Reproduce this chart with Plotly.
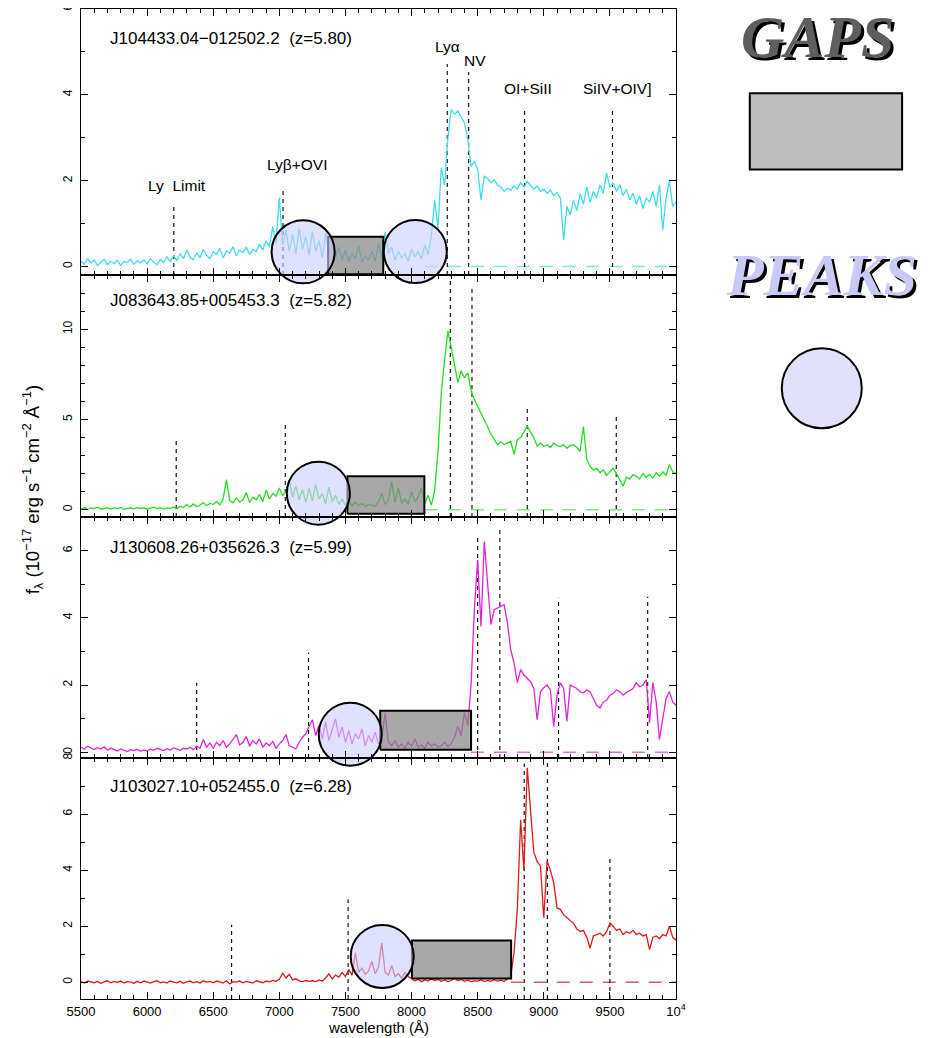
import plotly.graph_objects as go

# ---------------- data ----------------
wavelength = list(range(5500, 10001, 25))  # sampling grid (Angstrom)

flux_j1044 = [
    0.12, 0.05, 0.18, 0.08, 0.15, 0.02, 0.10, 0.16, 0.04, 0.12,
    0.07, 0.14, 0.03, 0.11, 0.09, 0.17, 0.05, 0.13, 0.08, 0.15,
    0.06, 0.18, 0.10, 0.04, 0.16, 0.09, 0.22, 0.12, 0.25, 0.14,
    0.30, 0.18, 0.38, 0.22, 0.15, 0.32, 0.20, 0.40, 0.26, 0.18,
    0.34, 0.28, 0.42, 0.20, 0.36, 0.30, 0.46, 0.25, 0.38, 0.32,
    0.45, 0.28, 0.40, 0.35, 0.52, 0.38, 0.60, 0.45, 0.92, 0.55,
    1.60, 0.50, 0.85, 0.35, 0.75, 0.30, 0.88, 0.40, 0.70, 0.25,
    0.82, 0.35, 0.60, 0.20, 0.78, 0.30, 0.55, 0.22, 0.45, 0.15,
    0.38, 0.12, 0.30, 0.18, 0.48, 0.10, 0.25, 0.15, 0.35, 0.12,
    0.55, 0.20, 0.80, 0.30, 0.45, 0.15, 0.35, 0.20, 0.30, 0.12,
    0.40, 0.22, 0.35, 0.18, 0.50, 0.28, 0.72, 1.55, 0.90, 2.30,
    1.90, 3.00, 3.66, 3.55, 3.62, 3.50, 3.35, 2.96, 2.33, 2.45,
    2.26, 1.55, 2.10, 2.05, 1.95, 2.02, 1.90, 1.85, 1.75, 1.82,
    1.78, 1.88, 1.80, 1.95, 1.85, 1.98, 1.90, 1.80, 1.88, 1.75,
    1.80, 1.70, 1.78, 1.65, 1.72, 1.60, 0.62, 1.40, 1.20, 1.55,
    1.30, 1.70, 1.45, 1.85, 1.50, 1.75, 1.60, 1.90, 1.70, 2.18,
    1.85, 1.95, 1.75, 1.90, 1.65, 1.80, 1.55, 1.70, 1.45, 1.65,
    1.35, 1.60, 1.50, 1.75, 1.40, 1.90, 0.85, 1.60, 2.00, 1.40,
    1.50,
]

flux_j0836 = [
    0.05, 0.12, 0.02, 0.10, 0.06, 0.14, 0.03, 0.09, 0.12, 0.04,
    0.10, 0.06, 0.13, 0.02, 0.08, 0.11, 0.05, 0.12, 0.07, 0.10,
    0.03, 0.09, 0.14, 0.06, 0.11, 0.04, 0.10, 0.08, 0.15, 0.06,
    0.20, 0.12, 0.28, 0.15, 0.32, 0.18, 0.25, 0.40, 0.22, 0.35,
    0.30, 0.45, 0.28, 0.60, 1.67, 0.50, 0.38, 0.65, 0.42, 0.55,
    0.95, 0.40, 0.70, 0.55, 0.85, 0.45, 1.10, 0.60, 0.90, 0.75,
    1.20, 0.80, 1.00, 1.67, 0.70, 1.30, 0.55, 1.10, 0.40, 1.20,
    0.50, 1.40, 0.60, 0.90, 0.35, 1.25, 0.45, 0.80, 0.30, 0.60,
    0.25, 0.50, 0.20, 0.40, 0.22, 0.35, 0.18, 0.30, 0.25, 0.20,
    0.45, 0.90, 0.30, 0.55, 1.57, 0.40, 1.20, 0.35, 0.60, 0.30,
    1.00, 0.45, 0.70, 1.20, 0.35, 0.80, 0.25, 1.10, 3.20, 6.50,
    8.30, 9.90, 9.00, 8.00, 7.05, 7.70, 7.30, 7.60, 6.60, 6.10,
    5.74, 5.40, 5.00, 4.60, 4.20, 3.90, 3.60, 3.75, 3.60, 3.70,
    3.80, 3.05, 3.90, 4.00, 4.30, 4.63, 4.30, 4.00, 3.52, 3.70,
    3.50, 3.60, 3.45, 3.70, 3.55, 3.50, 3.60, 3.40, 3.55, 3.60,
    3.45, 3.24, 4.60, 2.80, 2.40, 2.20, 2.30, 2.05, 2.20, 1.90,
    2.10, 2.30, 2.00, 1.60, 1.30, 1.80, 1.70, 1.95, 1.85, 1.70,
    2.00, 1.80, 1.95, 1.75, 2.05, 1.85, 2.10, 1.90, 2.50, 2.10,
    2.00,
]

flux_j1306 = [
    0.15, 0.10, 0.18, 0.12, 0.08, 0.14, 0.10, 0.16, 0.06, 0.12,
    0.08, 0.04, 0.10, 0.06, 0.02, 0.08, 0.05, 0.09, 0.03, 0.07,
    0.04, 0.10, 0.06, 0.12, 0.08, 0.05, 0.11, 0.07, 0.13, 0.09,
    0.06, 0.12, 0.10, 0.15, 0.08, 0.18, 0.12, 0.38, 0.15, 0.28,
    0.12, 0.30, 0.20, 0.35, 0.15, 0.25, 0.40, 0.53, 0.22, 0.30,
    0.47, 0.18, 0.35, 0.25, 0.40, 0.15, 0.28, 0.20, 0.32, 0.12,
    0.25, 0.35, 0.53, 0.20, 0.15, 0.10, 0.30, 0.45, 0.55, 0.77,
    0.97, 0.50, 0.80, 0.40, 0.90, 0.35, 0.70, 1.00, 0.45, 0.75,
    0.30, 0.65, 0.25, 0.55, 0.40, 0.70, 0.20, 0.50, 0.30, 0.60,
    0.25, 0.45, 1.18, 0.30, 0.20, 0.35, 0.15, 0.25, 0.12, 0.30,
    0.18, 0.40, 0.15, 0.22, 0.12, 0.30, 0.18, 0.25, 0.15, 0.20,
    0.30, 0.18, 0.25, 0.45, 0.77, 0.50, 1.18, 0.80, 2.00, 4.24,
    5.73, 3.74, 6.27, 5.00, 3.80, 4.24, 4.30, 4.34, 4.39, 3.85,
    3.05, 2.66, 2.07, 2.46, 2.30, 2.20, 2.10, 1.90, 0.97, 1.80,
    1.92, 2.00, 1.85, 0.77, 1.70, 2.07, 1.90, 0.92, 2.00, 1.95,
    1.90, 1.80, 1.77, 1.85, 1.80, 1.60, 1.40, 1.32, 1.50, 1.55,
    1.70, 1.75, 1.86, 1.80, 1.70, 1.78, 1.85, 1.90, 2.07, 1.95,
    2.00, 2.16, 0.88, 2.07, 1.50, 0.38, 1.00, 1.60, 1.80, 1.50,
    1.40,
]

flux_j1030 = [
    0.02, -0.03, 0.04, 0.00, -0.02, 0.03, -0.04, 0.01, 0.05, -0.02,
    0.03, -0.01, 0.04, -0.03, 0.02, 0.00, -0.04, 0.03, -0.02, 0.04,
    0.00, -0.03, 0.02, 0.05, -0.02, 0.01, -0.03, 0.04, 0.00, -0.02,
    0.03, -0.04, 0.01, 0.04, -0.02, 0.02, -0.03, 0.05, 0.00, 0.03,
    -0.02, 0.04, 0.01, -0.03, 0.05, -0.06, 0.02, 0.00, 0.04, -0.02,
    0.03, 0.00, -0.03, 0.05, 0.02, -0.02, 0.04, 0.01, 0.06, 0.03,
    0.10, 0.32, 0.15, 0.28, 0.08, 0.12, 0.05, 0.02, 0.06, 0.03,
    0.05, 0.02, 0.08, 0.04, 0.15, 0.30, 0.12, 0.25, 0.18, 0.35,
    0.20, 0.45, 0.25, 1.05, 0.35, 0.50, 0.28, 0.40, 0.74, 0.30,
    0.55, 1.40, 0.35, 0.25, 0.60, 0.20, 0.30, 0.15, 0.35, 0.20,
    0.12, 0.05, 0.10, 0.02, 0.08, 0.04, 0.12, 0.06, 0.10, 0.03,
    0.08, 0.02, 0.06, 0.15, 0.05, 0.10, 0.03, 0.07, 0.02, 0.05,
    0.04, 0.08, 0.02, 0.06, 0.03, 0.09, 0.04, 0.07, 0.03, 0.12,
    0.20, 1.05, 2.60, 5.80, 4.00, 7.65, 6.20, 4.63, 4.30, 4.14,
    2.30, 4.32, 4.00, 3.55, 2.65, 2.60, 2.40, 2.30, 2.17, 2.10,
    1.90, 1.81, 1.85, 1.60, 1.22, 1.65, 1.70, 1.75, 1.65, 1.80,
    2.11, 2.00, 1.85, 1.90, 1.70, 1.80, 1.75, 1.85, 1.70, 1.75,
    1.65, 1.70, 1.16, 1.60, 1.65, 1.55, 1.70, 1.65, 2.00, 1.60,
    1.50,
]

quasar_names = [
    "J104433.04\u2212012502.2  (z=5.80)",
    "J083643.85+005453.3  (z=5.82)",
    "J130608.26+035626.3  (z=5.99)",
    "J103027.10+052455.0  (z=6.28)",
]
spectra = [flux_j1044, flux_j0836, flux_j1306, flux_j1030]
line_colors = ["#3fdde6", "#25dd25", "#e022e0", "#dd1a1a"]
zero_colors = ["#86e4e8", "#86e286", "#e070e0", "#c86464"]
y_ranges = [[-0.2, 6], [-0.4, 13], [-0.17, 7], [-0.6, 8]]
y_dticks = [2, 5, 2, 2]

# emission-line markers: observed wavelength and top of dotted line
line_waves = [
    [6202, 7028, 8270, 8432, 8855, 9520],
    [6220, 7045, 8293, 8457, 8875, 9548],
    [6375, 7221, 8500, 8668, 9112, 9786],
    [6639, 7520, 8852, 9027, 9500],
]
line_tops = [
    [1.48, 1.86, 4.72, 4.53, 3.70, 3.66],
    [3.9, 4.7, 12.9, 12.3, 5.7, 5.3],
    [2.07, 2.96, 6.47, 6.68, 4.6, 4.63],
    [2.05, 2.95, 7.8, 7.9, 4.53],
]
# labels of the emission lines (top panel)
line_label_text = ["Ly  Limit", "Ly\u03b2+OVI", "Ly\u03b1", "NV", "OI+SiII", "SiIV+OIV]"]
line_label_x = [6228, 7132, 8274, 8479, 8884, 9558]
line_label_y = [1.88, 2.37, 5.12, 4.80, 4.15, 4.15]

# gap boxes [x0, x1, y0, y1] and peak circles (centre) per panel
gap_boxes = [
    [7369, 7786, -0.18, 0.69],
    [7515, 8097, -0.22, 1.85],
    [7763, 8450, 0.08, 1.24],
    [8003, 8753, 0.13, 1.49],
]
peak_x = [[7180, 8028], [7295], [7536], [7778]]
peak_y = [[0.34, 0.35], [0.92], [0.54], [0.92]]
zero_start = [8100, 8100, 8450, 8750]

x_tickvals = [5500, 6000, 6500, 7000, 7500, 8000, 8500, 9000, 9500, 10000]
x_ticktext = ["5500", "6000", "6500", "7000", "7500", "8000", "8500", "9000", "9500", "10<sup>4</sup>"]

# ---------------- figure ----------------
# the page body has an 8 px margin: the figure is sized/offset so that the
# plotting area lands on the same window pixels as the reference
W, H = 930, 1030
ML, MR, MT, MB = 73, 262, 1, 39
domains = [[0.7313, 1.0], [0.4869, 0.7313], [0.2434, 0.4869], [0.0, 0.2434]]
title_ypos = [0.89, 0.893, 0.875, 0.88]
FONT = "Liberation Sans, Arial, Helvetica, sans-serif"

fig = go.Figure()
layout = dict(
    width=W, height=H,
    margin=dict(l=ML, r=MR, t=MT, b=MB, pad=0),
    paper_bgcolor="white", plot_bgcolor="white",
    showlegend=False,
    font=dict(family=FONT, color="black"),
)

annotations = []
shapes = []

for k in range(4):
    xa = "x" if k == 0 else f"x{k+1}"
    ya = "y" if k == 0 else f"y{k+1}"
    xkey = "xaxis" if k == 0 else f"xaxis{k+1}"
    ykey = "yaxis" if k == 0 else f"yaxis{k+1}"

    # zero level (dashed)
    fig.add_trace(go.Scatter(
        x=[zero_start[k], 10000], y=[0, 0], mode="lines",
        line=dict(color=zero_colors[k], width=1.6, dash="13px,10px"),
        xaxis=xa, yaxis=ya, hoverinfo="skip"))
    # dotted emission-line markers
    for lam, top in zip(line_waves[k], line_tops[k]):
        fig.add_trace(go.Scatter(
            x=[lam, lam], y=[y_ranges[k][0], top], mode="lines",
            line=dict(color="black", width=1.1, dash="4px,4px"),
            xaxis=xa, yaxis=ya, hoverinfo="skip"))
    # spectrum
    fig.add_trace(go.Scatter(
        x=wavelength, y=spectra[k], mode="lines",
        line=dict(color=line_colors[k], width=1.3),
        xaxis=xa, yaxis=ya))
    # gap box
    bx0, bx1, by0, by1 = gap_boxes[k]
    fig.add_trace(go.Scatter(
        x=[bx0, bx1, bx1, bx0, bx0], y=[by0, by0, by1, by1, by0],
        mode="lines", fill="toself", fillcolor="rgba(135,135,135,0.72)",
        line=dict(color="black", width=2),
        xaxis=xa, yaxis=ya, hoverinfo="skip"))
    # peak circles
    fig.add_trace(go.Scatter(
        x=peak_x[k], y=peak_y[k], mode="markers", cliponaxis=False,
        marker=dict(symbol="circle", size=63, color="rgba(205,205,255,0.62)",
                    line=dict(color="black", width=2)),
        xaxis=xa, yaxis=ya, hoverinfo="skip"))

    layout[xkey] = dict(
        domain=[0, 1], anchor=ya, range=[5500, 10000],
        tickmode="array", tickvals=x_tickvals, ticktext=x_ticktext,
        ticks="inside", ticklen=7, tickwidth=1, tickcolor="black",
        minor=dict(tickmode="linear", tick0=5500, dtick=100, ticks="inside",
                   ticklen=4, tickwidth=1, tickcolor="black"),
        showline=True, linecolor="black", linewidth=1.4, mirror="allticks",
        showgrid=False, zeroline=False, showticklabels=(k == 3),
        tickfont=dict(size=13, family=FONT, color="black"),
        automargin=False,
    )
    if k > 0:
        layout[xkey]["matches"] = "x"
    layout[ykey] = dict(
        domain=domains[k], anchor=xa, range=y_ranges[k],
        tickmode="linear", tick0=0, dtick=y_dticks[k],
        ticks="inside", ticklen=7, tickwidth=1, tickcolor="black",
        minor=dict(tickmode="linear", tick0=0, dtick=1, ticks="inside",
                   ticklen=4, tickwidth=1, tickcolor="black"),
        showline=True, linecolor="black", linewidth=1.4, mirror="allticks",
        showgrid=False, zeroline=False, tickangle=-90,
        tickfont=dict(size=12, family=FONT, color="black"),
        ticklabelstandoff=3, ticklabeloverflow="allow",
        automargin=False,
    )
    annotations.append(dict(
        text=quasar_names[k], xref=f"{xa} domain", yref=f"{ya} domain",
        x=0.045, y=title_ypos[k], xanchor="left", yanchor="middle",
        showarrow=False, font=dict(size=17, family=FONT, color="black")))

# emission-line labels (top panel)
for t, lx, ly in zip(line_label_text, line_label_x, line_label_y):
    annotations.append(dict(text=t, x=lx, y=ly, xref="x", yref="y",
                            showarrow=False, xanchor="center", yanchor="middle",
                            font=dict(size=15.5, family=FONT, color="black")))

# axis titles
annotations.append(dict(
    text="f<sub>\u03bb</sub> (10<sup>\u221217</sup> erg s<sup>\u22121</sup> cm<sup>\u22122</sup> \u00c5<sup>\u22121</sup>)",
    xref="paper", yref="paper", x=-0.082, y=0.515, textangle=-90,
    showarrow=False, xanchor="center", yanchor="middle",
    font=dict(size=18.5, family=FONT, color="black")))
annotations.append(dict(
    text="wavelength (\u00c5)", xref="paper", yref="paper", x=0.5, y=-0.029,
    showarrow=False, xanchor="center", yanchor="middle",
    font=dict(size=15, family=FONT, color="black")))

# legend block on the right: GAPS / box, PEAKS / circle
SERIF = "Liberation Serif, Times New Roman, serif"
for text, xc, yc, col in [("GAPS", 1.237, 0.972, "#5e5e5e"), ("PEAKS", 1.244, 0.731, "#c9c9f6")]:
    annotations.append(dict(text=f"<b><i>{text}</i></b>", xref="paper", yref="paper",
                            x=xc, y=yc, xshift=3, yshift=-3, showarrow=False,
                            xanchor="center", yanchor="middle",
                            font=dict(size=60, family=SERIF, color="black")))
    annotations.append(dict(text=f"<b><i>{text}</i></b>", xref="paper", yref="paper",
                            x=xc, y=yc, showarrow=False,
                            xanchor="center", yanchor="middle",
                            font=dict(size=60, family=SERIF, color=col)))

shapes.append(dict(type="rect", xref="paper", yref="paper",
                   x0=1.124, x1=1.380, y0=0.838, y1=0.915,
                   fillcolor="#bebebe", line=dict(color="black", width=2)))
shapes.append(dict(type="circle", xref="paper", yref="paper",
                   xsizemode="pixel", ysizemode="pixel", xanchor=1.245, yanchor=0.617,
                   x0=-40, x1=40, y0=-40, y1=40,
                   fillcolor="#e1e1fc", line=dict(color="black", width=2)))

layout["annotations"] = annotations
layout["shapes"] = shapes
fig.update_layout(**layout)
fig.write_html("out.html")
